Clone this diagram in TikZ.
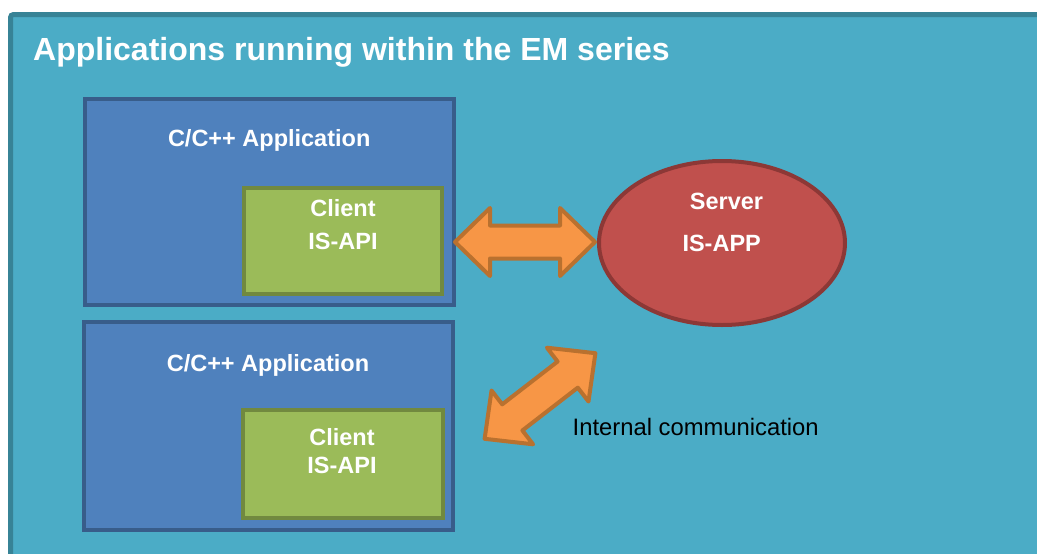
\documentclass[tikz,border=0pt]{standalone}
\usepackage{fontspec}
\setmainfont{Liberation Sans}
\usetikzlibrary{calc,shapes.geometric}
\definecolor{panelfill}{HTML}{4BACC6}
\definecolor{paneldraw}{HTML}{378396}
\definecolor{bluefill}{HTML}{4F81BD}
\definecolor{bluedraw}{HTML}{385D8A}
\definecolor{greenfill}{HTML}{9BBB59}
\definecolor{greendraw}{HTML}{71893F}
\definecolor{redfill}{HTML}{C0504D}
\definecolor{reddraw}{HTML}{8C3836}
\definecolor{orangefill}{HTML}{F79646}
\definecolor{orangedraw}{HTML}{B9712F}
\tikzset{
  panel/.style={fill=panelfill, draw=paneldraw, line width=5pt, rounded corners=3pt},
  bluebox/.style={rectangle, fill=bluefill, draw=bluedraw, line width=4pt, inner sep=0pt},
  greenbox/.style={rectangle, fill=greenfill, draw=greendraw, line width=4pt, inner sep=0pt},
  serverbox/.style={ellipse, fill=redfill, draw=reddraw, line width=4pt, inner sep=0pt},
  lbl/.style={inner sep=0pt, text=white, font=\bfseries\fontsize{23.5}{28}\selectfont},
  ttl/.style={inner sep=0pt, text=white, font=\bfseries\fontsize{32}{38}\selectfont},
  note/.style={inner sep=0pt, text=black, font=\fontsize{23.8}{28}\selectfont},
  arrowstyle/.style={fill=orangefill, draw=orangedraw, line width=4pt, line join=round},
  pics/dblarrow/.style={code={
    \draw[arrowstyle] (-70,0) -- (-35,-34) -- (-35,-16.5) -- (35,-16.5) -- (35,-34)
      -- (70,0) -- (35,34) -- (35,16.5) -- (-35,16.5) -- (-35,34) -- cycle;
  }}
}
\begin{document}
\begin{tikzpicture}[x=1pt, y=-1pt]
\clip (0,0) rectangle (1037,554);
\fill[white] (0,0) rectangle (1037,554);
\draw[panel] (10.5,14.5) rectangle (1070,590);
\node[ttl, anchor=base west] (title) at (33,60) {Applications running within the EM series};
% application boxes
\node[bluebox, minimum width=369pt, minimum height=206pt] (app1) at (269.5,202) {};
\node[bluebox, minimum width=369pt, minimum height=208pt] (app2) at (268.5,426) {};
\node[lbl, anchor=base] (app1t) at (269.2,146.7) {C/C++ Application};
\node[lbl, anchor=base] (app2t) at (268,371) {C/C++ Application};
% client boxes
\node[greenbox, minimum width=198pt, minimum height=106pt] (cli1) at (343,241) {};
\node[greenbox, minimum width=200pt, minimum height=108pt] (cli2) at (343,464) {};
\node[lbl, anchor=base] (cli1a) at (343,216.7) {Client};
\node[lbl, anchor=base] (cli1b) at (343,249.5) {IS-API};
\node[lbl, anchor=base] (cli2a) at (342,445) {Client};
\node[lbl, anchor=base] (cli2b) at (342,473) {IS-API};
% server
\node[serverbox, minimum width=246pt, minimum height=164pt] (server) at (722,243) {};
\node[lbl, anchor=base] (srva) at (726.5,209) {Server};
\node[lbl, anchor=base] (srvb) at (721.7,251.7) {IS-APP};
% connectors (block double arrows)
\coordinate (h1) at (455,242);
\coordinate (h2) at (595,242);
\pic at ($(h1)!0.5!(h2)$) {dblarrow};
\coordinate (d1) at (485,438.5);
\coordinate (d2) at (595,353.5);
\pic[rotate=37.7] at ($(d1)!0.5!(d2)$) {dblarrow};
\node[note, anchor=base west] (comm) at (572.5,435) {Internal communication};
\end{tikzpicture}
\end{document}
